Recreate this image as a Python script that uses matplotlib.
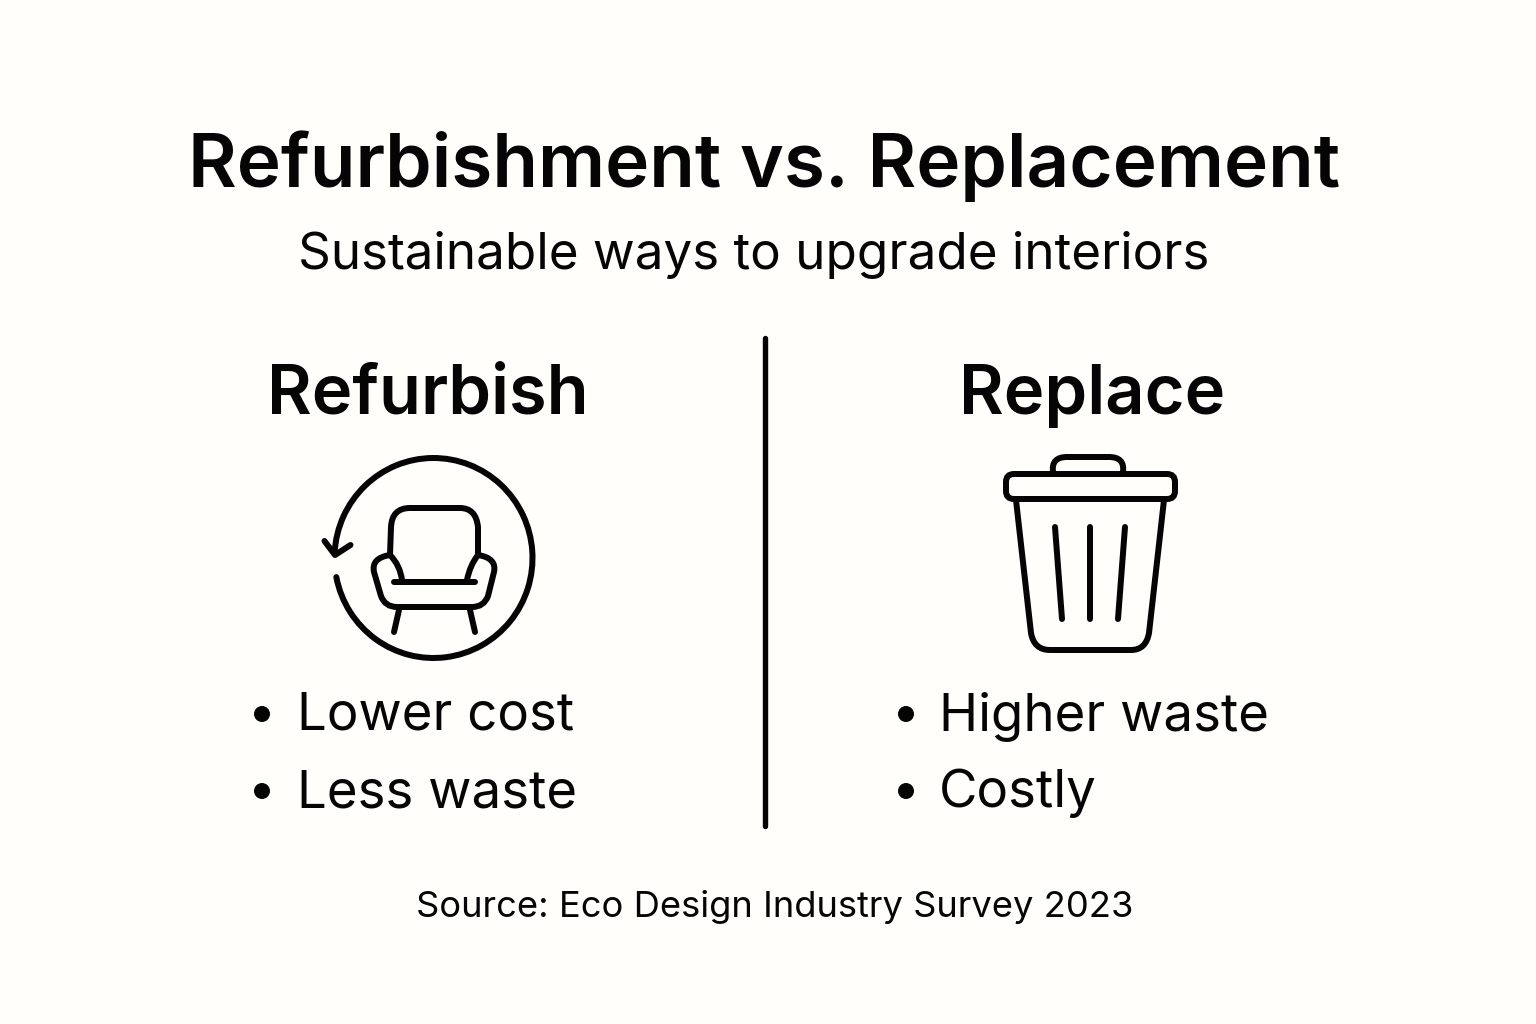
#!/usr/bin/env python3
"""Refurbishment vs. Replacement infographic."""

import matplotlib
matplotlib.use('Agg')
import matplotlib.pyplot as plt
from matplotlib.patches import Circle, FancyBboxPatch, PathPatch
from matplotlib.path import Path
from matplotlib.transforms import Affine2D

TITLE = 'Refurbishment vs. Replacement'
SUBTITLE = 'Sustainable ways to upgrade interiors'
SOURCE = 'Source: Eco Design Industry Survey 2023'
left_heading = 'Refurbish'
right_heading = 'Replace'
left_points = ['Lower cost', 'Less waste']
right_points = ['Higher waste', 'Costly']

INK = '#050505'
BG = '#fffefa'
LW = 6 * 0.72  # icon stroke, 6 px at dpi 100

M, L, Q = Path.MOVETO, Path.LINETO, Path.CURVE3


def stroke(ax, pts, codes=None, lw=LW):
    """Draw an open outline with round ends, coordinates in pixels"""
    if codes is None:
        codes = [M] + [L] * (len(pts) - 1)
    ax.add_patch(PathPatch(Path(pts, codes), fill=False, edgecolor=INK, lw=lw,
                           capstyle='round', joinstyle='round'))


def draw_chair(ax):
    # circle with gap on the left, closed with an arrow head
    ring = Path.arc(183, 169).transformed(Affine2D().scale(99, 100).translate(433.5, 558))
    ax.add_patch(PathPatch(ring, fill=False, edgecolor=INK, lw=LW, capstyle='round'))
    stroke(ax, [(324.5, 541), (335, 555), (350.5, 545)])
    # back and arms
    stroke(ax, [(390, 555), (391, 527), (392, 508), (410, 508), (460, 508),
                (476, 508), (478, 527), (478, 555)], [M, L, Q, Q, L, Q, Q, L])
    stroke(ax, [(390, 555), (371, 558), (374, 572), (381, 596), (385, 607), (397, 607),
                (472, 607), (484, 607), (488, 596), (494, 572), (497, 558), (478, 555)],
           [M, Q, Q, L, Q, Q, L, Q, Q, L, Q, Q])
    stroke(ax, [(390, 555), (400, 565), (402, 580)], [M, Q, Q])
    stroke(ax, [(478, 555), (470, 565), (467, 580)], [M, Q, Q])
    stroke(ax, [(394, 582), (475, 582)])
    # legs
    stroke(ax, [(399, 610), (394, 632)])
    stroke(ax, [(470, 610), (475, 632)])


def draw_bin(ax):
    ax.add_patch(FancyBboxPatch((1013, 481), 155, 11,
                                boxstyle='round,pad=7,rounding_size=8',
                                fill=False, edgecolor=INK, lw=LW))
    stroke(ax, [(1053, 472), (1051, 457), (1067, 457), (1109, 457),
                (1125, 457), (1123, 472)], [M, Q, Q, L, Q, Q])
    stroke(ax, [(1016, 500), (1031, 633), (1034, 650), (1050, 650), (1131, 650),
                (1146, 650), (1149, 633), (1164, 500)],
           [M, L, Q, Q, L, Q, Q, L])
    stroke(ax, [(1055, 527), (1062, 619)])
    stroke(ax, [(1090, 527), (1090, 619)])
    stroke(ax, [(1125, 527), (1118, 619)])


def draw_list(ax, points, bullet_x, text_x):
    for y, point in zip((711, 788), points):
        ax.add_patch(Circle((bullet_x, y + 3), 8, color=INK, lw=0))
        ax.text(text_x, y, point, fontsize=38, color=INK, ha='left', va='center_baseline')


def main():
    plt.rcParams['font.family'] = ['Inter', 'DejaVu Sans']
    fig = plt.figure(figsize=(15.36, 10.24), dpi=100, facecolor=BG)
    ax = fig.add_axes([0, 0, 1, 1])
    ax.set_xlim(0, 1536)
    ax.set_ylim(1024, 0)
    ax.axis('off')

    ax.text(764.5, 159, TITLE, fontsize=53.75, fontweight='semibold', color=INK,
            ha='center', va='center_baseline')
    ax.text(753.5, 250, SUBTITLE, fontsize=36.8, color=INK, ha='center', va='center_baseline')
    ax.text(428, 389, left_heading, fontsize=49.4, fontweight='semibold', color=INK,
            ha='center', va='center_baseline')
    ax.text(1092.5, 389, right_heading, fontsize=49.4, fontweight='semibold', color=INK,
            ha='center', va='center_baseline')

    # divider
    ax.plot([765, 765], [338, 826], color=INK, lw=LW * 0.9, solid_capstyle='round')

    draw_chair(ax)
    draw_bin(ax)
    draw_list(ax, left_points, 262, 297)
    draw_list(ax, right_points, 906, 939)

    ax.text(774.5, 903, SOURCE, fontsize=26.15, color=INK, ha='center', va='center_baseline')

    fig.savefig('out.png', dpi=100, facecolor=BG)


if __name__ == '__main__':
    main()
